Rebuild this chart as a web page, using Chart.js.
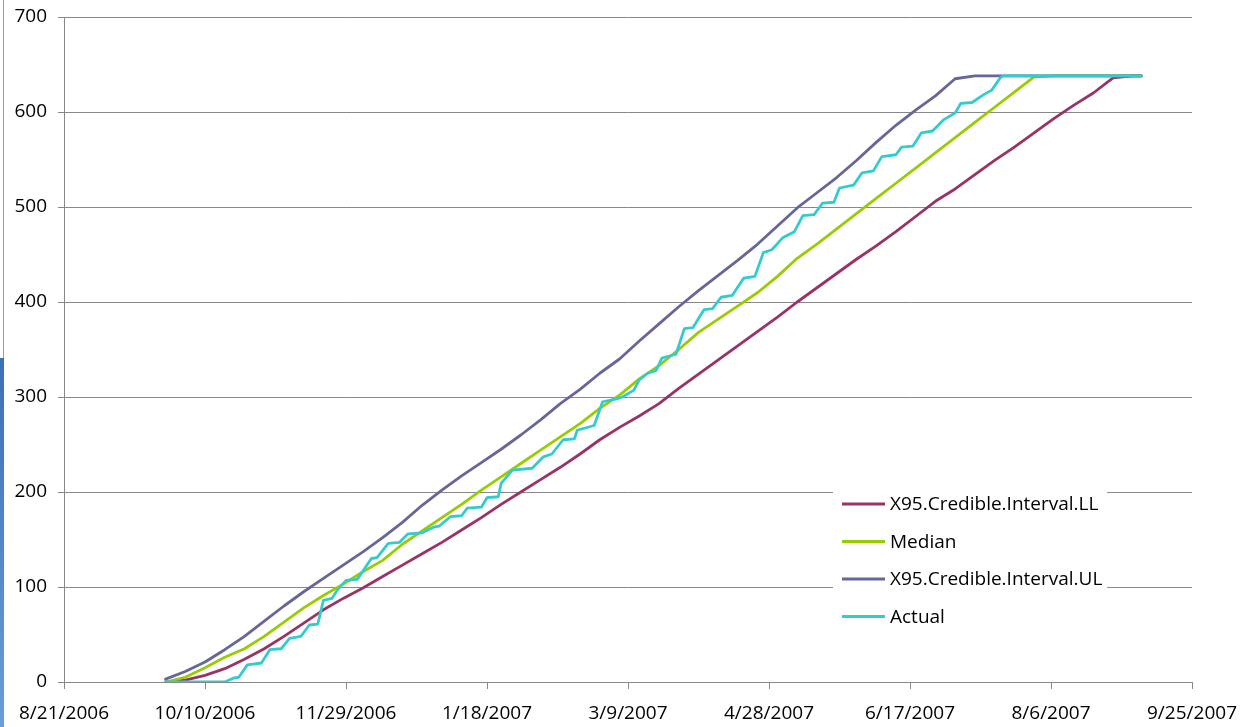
<!DOCTYPE html>
<html lang="en">
<head>
    <meta charset="UTF-8">
    <title>Credible interval vs actual</title>
    <script src="https://cdn.jsdelivr.net/npm/chart.js"></script>
    <style>
        body {
            margin: 0;
            background: #fff;
            overflow: hidden;
        }
        .wrap {
            position: relative;
            width: 1255px;
            height: 727px;
        }
        /* bits of the window behind the chart, left edge */
        .edge-line {
            position: absolute;
            left: 3px;
            top: 0;
            width: 1px;
            height: 358px;
            background: #9a9a9a;
        }
        .edge-blue {
            position: absolute;
            left: 0;
            top: 358px;
            width: 4px;
            height: 369px;
            background: linear-gradient(#3d6fb6, #6b9ddb);
        }
    </style>
</head>
<body>
    <div class="wrap">
        <canvas id="chart" width="1255" height="727"></canvas>
        <div class="edge-line"></div>
        <div class="edge-blue"></div>
    </div>
    <script>
        // x = days since 8/21/2006
        const tickDates = ['8/21/2006', '10/10/2006', '11/29/2006', '1/18/2007', '3/9/2007',
                           '4/28/2007', '6/17/2007', '8/6/2007', '9/25/2007'];

        const modelDays = [36, 43, 50, 57, 64, 71, 78, 85, 92, 99, 106, 113, 120, 127, 134, 141, 148,
                           155, 162, 169, 176, 183, 190, 197, 204, 211, 218, 225, 232, 239, 246, 253,
                           260, 267, 274, 281, 288, 295, 302, 309, 316, 323, 330, 337, 344, 351, 358,
                           365, 372, 379, 382];

        const lowerLimit = [0, 2, 7, 14, 24, 35, 48, 62, 76, 88, 99, 111, 123, 135, 147, 160, 173,
                            187, 200, 213, 226, 240, 255, 268, 280, 293, 309, 324, 339, 354, 369, 384,
                            400, 415, 430, 445, 459, 474, 490, 506, 519, 534, 549, 563, 578, 593, 607,
                            620, 636, 638, 638];

        const medianValues = [0, 5, 15, 26, 35, 48, 63, 78, 91, 103, 116, 128, 145, 159, 173, 187, 202,
                              216, 230, 244, 258, 272, 288, 302, 319, 333, 350, 368, 382, 396, 410, 427,
                              446, 461, 477, 493, 509, 525, 541, 557, 573, 589, 605, 621, 637, 638, 638,
                              638, 638, 638, 638];

        const upperLimit = [3, 11, 21, 34, 48, 64, 80, 95, 109, 123, 137, 152, 168, 186, 202, 217, 231,
                            245, 260, 276, 293, 308, 325, 340, 359, 377, 395, 412, 428, 444, 461, 480,
                            499, 515, 531, 549, 568, 586, 602, 617, 635, 638, 638, 638, 638, 638, 638,
                            638, 638, 638, 638];

        const actualDays = [36, 57, 60, 62, 65, 70, 73, 77, 80, 84, 87, 90, 92, 95, 97, 100, 104, 109,
                            111, 115, 119, 122, 127, 131, 133, 137, 141, 143, 148, 150, 154, 155, 159,
                            166, 170, 173, 177, 181, 182, 188, 191, 196, 198, 202, 204, 207, 210, 212,
                            217, 220, 223, 227, 230, 233, 237, 241, 245, 248, 251, 255, 259, 262, 266,
                            269, 273, 275, 280, 283, 287, 290, 295, 297, 301, 304, 308, 312, 316, 318,
                            322, 326, 329, 332, 333, 382];

        const actualValues = [0, 0, 4, 5, 18, 20, 34, 35, 46, 48, 60, 61, 86, 88, 97, 107, 108, 130,
                              131, 146, 147, 156, 157, 163, 164, 174, 175, 183, 184, 194, 195, 209, 223,
                              225, 237, 240, 255, 256, 265, 270, 295, 298, 300, 307, 318, 325, 328, 341,
                              345, 372, 373, 392, 393, 405, 407, 425, 427, 452, 455, 468, 474, 491, 492,
                              504, 505, 520, 523, 536, 538, 553, 555, 563, 564, 578, 580, 592, 599, 609,
                              610, 618, 623, 636, 638, 638];

        const seriesNames = ['X95.Credible.Interval.LL', 'Median', 'X95.Credible.Interval.UL', 'Actual'];
        const seriesColors = ['#993366', '#99cc00', '#666699', '#33cccc'];

        const FONT = { family: '"Open Sans", sans-serif', size: 19 };

        function points(xs, ys) {
            return xs.map((x, i) => ({ x: x, y: ys[i] }));
        }

        function makeSet(i, data) {
            return {
                label: seriesNames[i],
                data: data,
                borderColor: seriesColors[i],
                backgroundColor: seriesColors[i],
                borderWidth: 2.8,
                borderJoinStyle: 'round',
                borderCapStyle: 'round',
                pointRadius: 0,
                tension: 0,
                fill: false,
                order: 3 - i // Actual on top, like the original
            };
        }

        // legend box drawn inside the plot, bottom right
        const boxLegend = {
            id: 'boxLegend',
            afterDatasetsDraw(chart) {
                const ctx = chart.ctx;
                ctx.save();
                ctx.fillStyle = '#fff';
                ctx.fillRect(833, 483, 274, 150);
                const rows = [504, 541.5, 579, 616.5];
                ctx.font = '19px "Open Sans", sans-serif';
                ctx.textBaseline = 'middle';
                ctx.textAlign = 'left';
                chart.data.datasets.forEach((ds, i) => {
                    const y = rows[i];
                    ctx.strokeStyle = ds.borderColor;
                    ctx.lineWidth = 3;
                    ctx.beginPath();
                    ctx.moveTo(842, y);
                    ctx.lineTo(885, y);
                    ctx.stroke();
                    ctx.fillStyle = '#000';
                    ctx.fillText(ds.label, 890, y + 1);
                });
                ctx.restore();
            }
        };

        new Chart(document.getElementById('chart').getContext('2d'), {
            type: 'line',
            data: {
                datasets: [
                    makeSet(0, points(modelDays, lowerLimit)),
                    makeSet(1, points(modelDays, medianValues)),
                    makeSet(2, points(modelDays, upperLimit)),
                    makeSet(3, points(actualDays, actualValues))
                ]
            },
            options: {
                responsive: false,
                devicePixelRatio: 1,
                animation: false,
                layout: { padding: { top: 17, right: 63, left: 0, bottom: 0 } },
                plugins: {
                    legend: { display: false },
                    tooltip: { enabled: false }
                },
                scales: {
                    x: {
                        type: 'linear',
                        min: 0,
                        max: 400,
                        afterFit: (s) => {
                            s.height = 45;
                            s.paddingLeft = 0;
                            s.paddingRight = 0;
                        },
                        ticks: {
                            stepSize: 50,
                            autoSkip: false,
                            maxRotation: 0,
                            padding: 13,
                            color: '#000',
                            font: FONT,
                            callback: (v) => tickDates[v / 50]
                        },
                        grid: {
                            drawOnChartArea: false,
                            drawTicks: true,
                            tickLength: 7,
                            color: '#888'
                        },
                        border: { display: true, color: '#888', width: 1 }
                    },
                    y: {
                        min: 0,
                        max: 700,
                        afterFit: (s) => {
                            s.width = 64;
                            s.paddingTop = 0;
                            s.paddingBottom = 0;
                        },
                        ticks: {
                            stepSize: 100,
                            padding: 11,
                            color: '#000',
                            font: FONT
                        },
                        grid: {
                            color: '#888',
                            tickLength: 6,
                            lineWidth: 1
                        },
                        border: { display: true, color: '#888', width: 1 }
                    }
                }
            },
            plugins: [boxLegend]
        });
    </script>
</body>
</html>
